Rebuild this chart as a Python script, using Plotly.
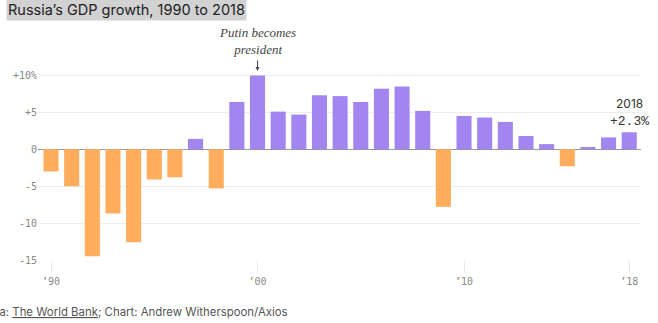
import plotly.graph_objects as go

years = list(range(1990, 2019))
growth = [-3.0, -5.0, -14.5, -8.7, -12.6, -4.1, -3.8, 1.4, -5.3, 6.4,
          10.0, 5.1, 4.7, 7.3, 7.2, 6.4, 8.2, 8.5, 5.2, -7.8,
          4.5, 4.3, 3.7, 1.8, 0.7, -2.3, 0.3, 1.6, 2.3]
y_ticks = [10, 5, 0, -5, -10, -15]
y_tick_labels = ["+10%", "+5", "0", "-5", "-10", "-15"]
x_ticks = [1990, 2000, 2010, 2018]
x_tick_labels = ["’90", "’00", "’10", "’18"]

ORANGE = "#FFAD5C"
PURPLE = "#A385F2"
colors = [PURPLE if v >= 0 else ORANGE for v in growth]

W, H = 658, 323
ml, mr, mt, mb = 38, 17, 71, 63
pw = W - ml - mr
ph = H - mt - mb

def px_x(p):
    return (p - ml) / pw

def px_y(p):
    return (H - mb - p) / ph

fig = go.Figure()
fig.add_trace(go.Bar(x=years, y=growth, marker=dict(color=colors, line=dict(width=0)),
                     hoverinfo="x+y"))

fig.update_layout(
    width=W, height=H,
    margin=dict(l=ml, r=mr, t=mt, b=mb),
    paper_bgcolor="white", plot_bgcolor="white",
    bargap=0.27,
    showlegend=False,
    font=dict(family="Inter, Roboto, sans-serif", color="#555"),
    xaxis=dict(range=[1989.37, 2018.57], tickvals=x_ticks, ticktext=x_tick_labels,
               showgrid=False, zeroline=False, showline=False,
               ticks="outside", ticklen=12, tickcolor="#e8e8e8",
               tickfont=dict(family="DejaVu Sans Mono, monospace", size=10, color="#888")),
    yaxis=dict(range=[-15, 10.6], tickvals=y_ticks, ticktext=y_tick_labels,
               showgrid=True, gridcolor="#ececec", gridwidth=1,
               zeroline=True, zerolinecolor="#999", zerolinewidth=1,
               showline=False, ticks="",
               tickfont=dict(family="DejaVu Sans Mono, monospace", size=10, color="#888")),
)

annotations = [
    dict(text="Russia’s GDP growth, 1990 to 2018", xref="paper", yref="paper",
         x=px_x(6), y=px_y(10), xanchor="left", yanchor="middle", showarrow=False,
         font=dict(family="Inter, sans-serif", size=14.5, color="#222"),
         bgcolor="#d2d2d2", borderpad=1),
    dict(text="<i>Putin becomes<br>president</i>", xref="x", yref="paper",
         x=2000, y=px_y(41), xanchor="center", yanchor="middle", showarrow=False,
         font=dict(family="Liberation Serif, serif", size=13, color="#444")),
    dict(text="", xref="x", yref="y", x=2000, y=10.6, ax=0, ay=-12,
         showarrow=True, arrowhead=2, arrowsize=0.8, arrowwidth=1, arrowcolor="#444"),
    dict(text="2018", xref="x", yref="paper", x=2018, y=px_y(103),
         xanchor="center", yanchor="middle", showarrow=False,
         font=dict(family="Inter, sans-serif", size=12, color="#333")),
    dict(text="+2.3%", xref="x", yref="paper", x=2018, y=px_y(121),
         xanchor="center", yanchor="middle", showarrow=False,
         font=dict(family="Liberation Mono, monospace", size=13, color="#333")),
    dict(text="Data: <u>The World Bank</u>; Chart: Andrew Witherspoon/Axios", xref="paper", yref="paper",
         x=px_x(-21), y=px_y(312), xanchor="left", yanchor="middle", showarrow=False,
         font=dict(family="Inter, sans-serif", size=11.4, color="#555")),
]
fig.update_layout(annotations=annotations)

fig.write_html("out.html")
